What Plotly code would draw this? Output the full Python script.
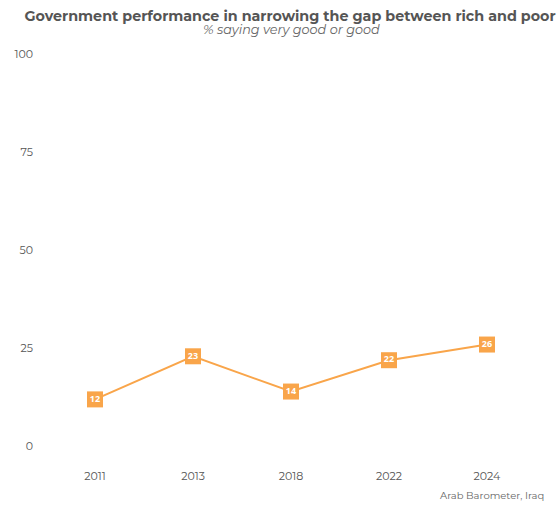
import plotly.graph_objects as go

years = ["2011", "2013", "2018", "2022", "2024"]
values = [12, 23, 14, 22, 26]
y_ticks = [0, 25, 50, 75, 100]

line_color = "#F9A54A"
font_family = "Montserrat, 'Open Sans', Lato, sans-serif"

fig = go.Figure()
fig.add_trace(go.Scatter(
    x=years,
    y=values,
    mode="lines+markers+text",
    line=dict(color=line_color, width=2),
    marker=dict(symbol="square", size=16, color=line_color),
    text=[str(v) for v in values],
    textposition="middle center",
    textfont=dict(color="white", size=9, family="'Open Sans', sans-serif", weight="bold"),
    hoverinfo="x+y",
    showlegend=False,
))

fig.update_layout(
    width=560,
    height=506,
    paper_bgcolor="white",
    plot_bgcolor="white",
    margin=dict(l=46, r=24, t=35, b=40),
    font=dict(family=font_family, color="#555555"),
    title=dict(
        text="<b>Government performance in narrowing the gap between rich and poor</b>",
        x=0.518, xanchor="center", y=0.969, yanchor="middle",
        font=dict(size=14.3, color="#555555"),
    ),
    annotations=[
        dict(text="<i>% saying very good or good</i>", xref="paper", yref="paper",
             x=0.502, y=1.0, xanchor="center", yanchor="middle",
             yshift=6, showarrow=False, font=dict(size=12.8, color="#666666")),
        dict(text="Arab Barometer, Iraq", xref="paper", yref="paper",
             x=1.02, y=0, xanchor="right", yanchor="middle", showarrow=False,
             yshift=-29, font=dict(size=10, color="#666666")),
    ],
    xaxis=dict(
        type="category", range=[-0.5, 4.5], showgrid=False, zeroline=False,
        showline=False, ticks="", tickfont=dict(size=11, color="#555555"),
        ticklabelstandoff=2,
    ),
    yaxis=dict(
        range=[-5, 105], tickvals=y_ticks, showgrid=False, zeroline=False,
        showline=False, ticks="", tickfont=dict(size=11, color="#555555"),
        ticklabelstandoff=12,
    ),
)

fig.write_html("out.html")
